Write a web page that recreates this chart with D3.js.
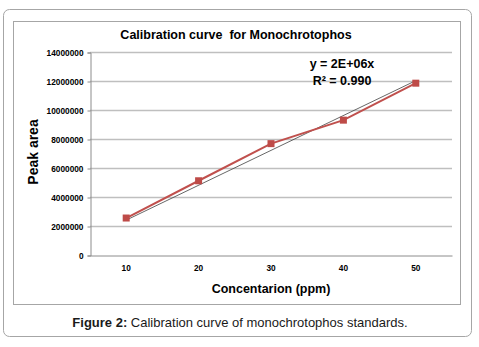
<!DOCTYPE html>
<html>
<head>
<meta charset="utf-8">
<script src="https://cdn.jsdelivr.net/npm/d3@7"></script>
<style>
  body { margin: 0; background: #fff; }
  svg { display: block; }
</style>
</head>
<body>
<div id="chart"></div>
<script>
// data
const concentrations = ["10", "20", "30", "40", "50"];
const peakAreas = [2550000, 5120000, 7680000, 9300000, 11850000];
const yTicks = [0, 2000000, 4000000, 6000000, 8000000, 10000000, 12000000, 14000000];
const equationLines = ["y = 2E+06x", "R\u00b2 = 0.990"];

const width = 479, height = 347;
const margin = { left: 90, right: 27, top: 52, bottom: 92 };
const red = "#c0504d";
const font = "'Liberation Sans', Arial, sans-serif";

let svg = d3
  .select("#chart")
  .append("svg")
  .attr("width", width)
  .attr("height", height)
  .style("font-family", font);

// outer frame + inner chart frame
svg.append("rect")
  .attr("x", 3.5).attr("y", 9.5)
  .attr("width", 468).attr("height", 327)
  .attr("rx", 6)
  .attr("fill", "#fff")
  .attr("stroke", "#a6a6a6");

svg.append("rect")
  .attr("x", 13.5).attr("y", 21.5)
  .attr("width", 447).attr("height", 283)
  .attr("fill", "#fff")
  .attr("stroke", "#a6a6a6");

let x = d3
  .scaleBand()
  .domain(concentrations)
  .range([margin.left, width - margin.right]);

let y = d3
  .scaleLinear()
  .domain([0, 14000000])
  .range([height - margin.bottom, margin.top]);

// gridlines
svg.append("g")
  .selectAll("line")
  .data(yTicks.slice(1))
  .enter()
  .append("line")
  .attr("x1", margin.left)
  .attr("x2", width - margin.right)
  .attr("y1", d => Math.round(y(d)) + 0.5)
  .attr("y2", d => Math.round(y(d)) + 0.5)
  .attr("stroke", "#bfbfbf")
  .attr("stroke-width", 1.3);

// y axis
let yAxis = svg.append("g")
  .attr("transform", "translate(" + (margin.left + 0.5) + ",0.5)")
  .call(d3.axisLeft(y).tickValues(yTicks).tickFormat(d3.format("d")).tickSize(3).tickPadding(4));
yAxis.selectAll("path, line").attr("stroke", "#8c8c8c");
yAxis.selectAll("text")
  .attr("font-size", 8.3)
  .attr("font-weight", "bold")
  .attr("font-family", font)
  .attr("fill", "#000")
  .attr("transform", d => "translate(0," + (Math.round(y(d)) - y(d)) + ")");

// x axis
let xAxis = svg.append("g")
  .attr("transform", "translate(0," + (Math.round(y(0)) + 0.5) + ")")
  .call(d3.axisBottom(x).tickSize(0).tickPadding(10));
xAxis.select("path").attr("stroke", "#8c8c8c");
xAxis.selectAll("text")
  .attr("font-size", 8.3)
  .attr("font-weight", "bold")
  .attr("font-family", font)
  .attr("fill", "#000");

let cx = d => x(d) + x.bandwidth() / 2;

// linear trend through origin, x = category index 1..5
let idx = concentrations.map((c, i) => i + 1);
let slope = d3.sum(idx, (k, i) => k * peakAreas[i]) / d3.sum(idx, k => k * k);

svg.append("line")
  .attr("x1", cx(concentrations[0]))
  .attr("y1", y(slope * idx[0]))
  .attr("x2", cx(concentrations[4]))
  .attr("y2", y(slope * idx[4]))
  .attr("stroke", "#404040")
  .attr("stroke-width", 0.8);

// data line
let line = d3.line()
  .x((d, i) => cx(concentrations[i]))
  .y(d => y(d));

svg.append("path")
  .datum(peakAreas)
  .attr("d", line)
  .attr("fill", "none")
  .attr("stroke", red)
  .attr("stroke-width", 2);

svg.append("g")
  .selectAll("rect")
  .data(peakAreas)
  .enter()
  .append("rect")
  .attr("x", (d, i) => cx(concentrations[i]) - 3.5)
  .attr("y", d => y(d) - 3.5)
  .attr("width", 7)
  .attr("height", 7)
  .attr("fill", "#be4b48");

// equation
svg.append("g")
  .selectAll("text")
  .data(equationLines)
  .enter()
  .append("text")
  .attr("x", 342)
  .attr("y", (d, i) => 68 + i * 17)
  .attr("text-anchor", "middle")
  .attr("font-size", 12.5)
  .attr("font-weight", "bold")
  .text(d => d);

// titles
svg.append("text")
  .attr("x", 236)
  .attr("y", 39)
  .attr("text-anchor", "middle")
  .attr("font-size", 12.5)
  .attr("font-weight", "bold")
  .style("white-space", "pre")
  .text("Calibration curve  for Monochrotophos");

svg.append("text")
  .attr("transform", "translate(38,152) rotate(-90)")
  .attr("text-anchor", "middle")
  .attr("font-size", 14)
  .attr("font-weight", "bold")
  .text("Peak area");

svg.append("text")
  .attr("x", 271)
  .attr("y", 293)
  .attr("text-anchor", "middle")
  .attr("font-size", 12.5)
  .attr("font-weight", "bold")
  .text("Concentarion (ppm)");

let caption = svg.append("text")
  .attr("x", 240)
  .attr("y", 327)
  .attr("text-anchor", "middle")
  .attr("font-size", 13)
  .attr("fill", "#1a1a1a");
caption.append("tspan").attr("font-weight", "bold").text("Figure 2:");
caption.append("tspan").text(" Calibration curve of monochrotophos standards.");
</script>
</body>
</html>
